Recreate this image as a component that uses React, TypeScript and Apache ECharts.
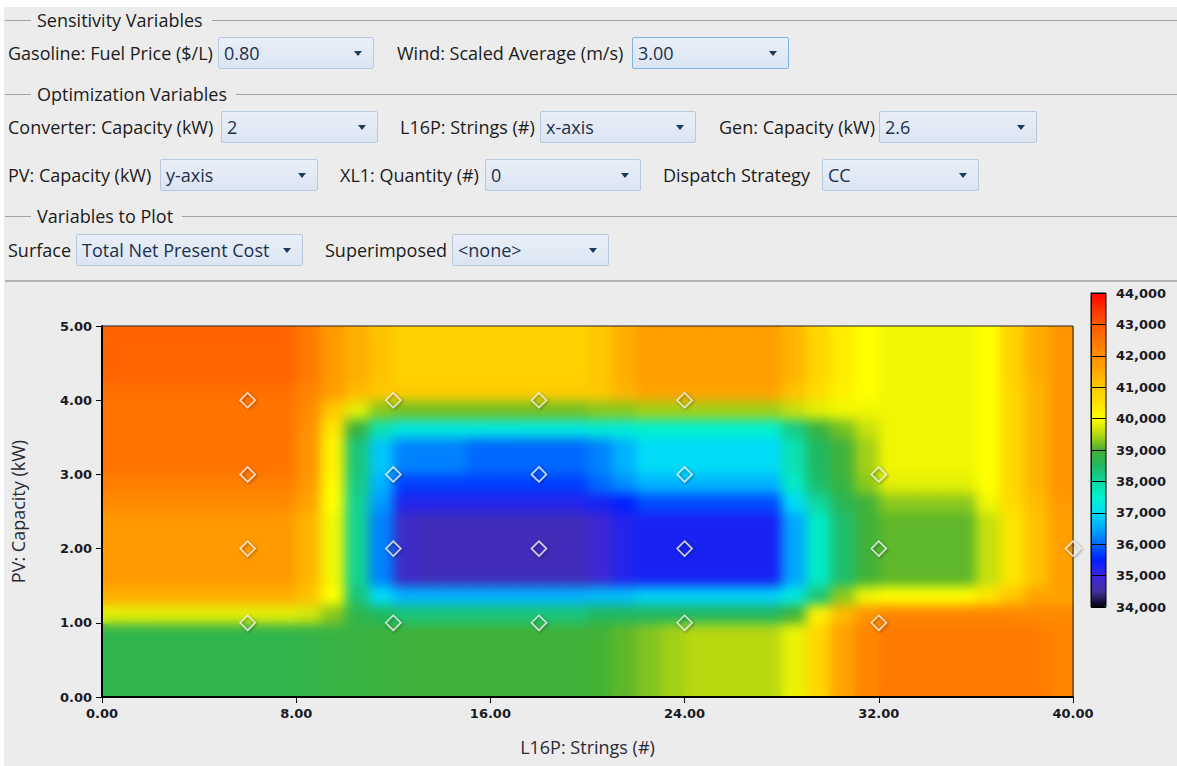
import React, { useEffect, useRef } from 'react';
import * as echarts from 'echarts';

// ---------------- data ----------------
const xMin = 0;
const xMax = 40;
const yMin = 0;
const yMax = 5;
const valueMin = 34000;
const valueMax = 44000;
const rowStep = 0.25; // each surface row spans 0.25 kW of PV capacity

// Total Net Present Cost surface.
// Each row is a list of runs [end L16P strings, NPC $] (cells 1 string wide), bottom row first.
const rowY0to1: number[][] = [[8, 38700], [9, 38750], [11, 38800], [12, 38850], [20, 38900], [21, 38950], [22, 39100], [23, 39250], [24, 39400], [28, 39500], [29, 39850], [30, 40700], [31, 41600], [32, 42200], [38, 42400], [39, 42350], [40, 42200]];
const rowY100: number[][] = [[8, 39800], [9, 39700], [10, 39300], [11, 38700], [12, 38500], [20, 38300], [28, 38500], [29, 38900], [30, 40200], [31, 41200], [32, 41900], [38, 42200], [40, 42100]];
const rowY125: number[][] = [[8, 41400], [9, 41100], [10, 40000], [11, 38300], [12, 37000], [20, 36600], [22, 36700], [28, 36900], [29, 37300], [30, 38300], [31, 39300], [32, 39900], [36, 40000], [37, 40400], [38, 41000], [40, 41600]];
const rowY150to250: number[][] = [[8, 41800], [9, 41300], [10, 39900], [11, 38100], [12, 36200], [13, 34800], [20, 34700], [21, 34900], [22, 35200], [28, 35300], [29, 36500], [30, 37600], [31, 38400], [32, 38900], [36, 39100], [37, 39600], [38, 40400], [39, 41100], [40, 41700]];
const rowY250: number[][] = [[8, 42100], [9, 41600], [10, 40000], [11, 38100], [12, 36400], [20, 35200], [21, 35300], [22, 35500], [28, 35800], [29, 37000], [30, 38000], [31, 38600], [32, 38900], [36, 39300], [37, 39900], [38, 40600], [39, 41200], [40, 41800]];
const rowY275: number[][] = [[8, 42300], [9, 41800], [10, 40100], [11, 38200], [12, 36600], [20, 35700], [21, 36000], [22, 36300], [28, 36600], [29, 37600], [30, 38400], [31, 38800], [32, 39300], [36, 39800], [37, 40000], [38, 40700], [39, 41300], [40, 41900]];
const rowY300to350: number[][] = [[8, 42500], [9, 41900], [10, 40200], [11, 38300], [12, 36800], [15, 36200], [20, 36000], [21, 36200], [22, 36600], [28, 37000], [29, 37800], [30, 38500], [31, 38900], [32, 39400], [36, 39900], [37, 40000], [38, 40700], [39, 41300], [40, 41900]];
const rowY350: number[][] = [[8, 42500], [9, 42000], [10, 40400], [11, 38800], [12, 37800], [20, 37300], [22, 37400], [28, 37500], [29, 38200], [30, 38800], [31, 39200], [32, 39600], [36, 39900], [37, 40000], [38, 40700], [39, 41300], [40, 41900]];
const rowY375: number[][] = [[8, 42500], [9, 42100], [10, 41000], [11, 39800], [12, 39300], [20, 39200], [22, 39300], [28, 39400], [29, 39600], [30, 39800], [36, 39900], [37, 40000], [38, 40700], [39, 41300], [40, 41900]];
const rowY400: number[][] = [[8, 42600], [9, 42200], [10, 41700], [11, 41200], [12, 41000], [20, 40900], [21, 41000], [22, 41300], [28, 41600], [29, 41100], [30, 40600], [31, 40200], [32, 40000], [36, 39900], [37, 40000], [38, 40700], [39, 41300], [40, 41900]];
const rowY425to500: number[][] = [[8, 42800], [9, 42400], [10, 41800], [11, 41400], [12, 41100], [20, 40800], [21, 41000], [22, 41400], [28, 41700], [29, 41300], [30, 40700], [31, 40300], [32, 40000], [36, 39900], [37, 40000], [38, 40800], [39, 41400], [40, 41900]];

const surfaceRows: number[][][] = [
  rowY0to1, rowY0to1, rowY0to1, rowY0to1,
  rowY100, rowY125,
  rowY150to250, rowY150to250, rowY150to250, rowY150to250,
  rowY250, rowY275,
  rowY300to350, rowY300to350,
  rowY350, rowY375, rowY400,
  rowY425to500, rowY425to500, rowY425to500,
];

// simulated (feasible) points: [L16P strings, PV kW]
const simulatedPoints: number[][] = [
  [6, 1], [6, 2], [6, 3], [6, 4],
  [12, 1], [12, 2], [12, 3], [12, 4],
  [18, 1], [18, 2], [18, 3], [18, 4],
  [24, 1], [24, 2], [24, 3], [24, 4],
  [32, 1], [32, 2], [32, 3],
  [40, 2],
];

const palette = [
  '#00000a', '#45309f', '#3a26e0', '#0020ff', '#0068ff', '#00a8ff', '#00dcf8',
  '#00f0d0', '#10d8a0', '#20b860', '#48b030', '#b8d810', '#ffff00', '#ffe000',
  '#ffc800', '#ffa800', '#ff9000', '#ff7400', '#ff5a00', '#ff3000', '#ff0000',
];

const xAxisTitle = 'L16P: Strings (#)';
const yAxisTitle = 'PV: Capacity (kW)';

// ---------------- form ----------------
type Field = { label: string; labelX: number; boxX: number; boxW: number; value: string; focused?: boolean };
const formRows: { top: number; fields: Field[] }[] = [
  { top: 37, fields: [
    { label: 'Gasoline: Fuel Price ($/L)', labelX: 8, boxX: 218, boxW: 156, value: '0.80' },
    { label: 'Wind: Scaled Average (m/s)', labelX: 397, boxX: 632, boxW: 157, value: '3.00', focused: true },
  ] },
  { top: 111, fields: [
    { label: 'Converter: Capacity (kW)', labelX: 8, boxX: 221, boxW: 157, value: '2' },
    { label: 'L16P: Strings (#)', labelX: 400, boxX: 540, boxW: 156, value: 'x-axis' },
    { label: 'Gen: Capacity (kW)', labelX: 719, boxX: 879, boxW: 158, value: '2.6' },
  ] },
  { top: 159, fields: [
    { label: 'PV: Capacity (kW)', labelX: 8, boxX: 160, boxW: 158, value: 'y-axis' },
    { label: 'XL1: Quantity (#)', labelX: 340, boxX: 485, boxW: 156, value: '0' },
    { label: 'Dispatch Strategy', labelX: 663, boxX: 822, boxW: 157, value: 'CC' },
  ] },
  { top: 234, fields: [
    { label: 'Surface', labelX: 8, boxX: 76, boxW: 227, value: 'Total Net Present Cost' },
    { label: 'Superimposed', labelX: 325, boxX: 452, boxW: 157, value: '<none>' },
  ] },
];
const groupHeaders = [
  { y: 20, text: 'Sensitivity Variables' },
  { y: 94, text: 'Optimization Variables' },
  { y: 216, text: 'Variables to Plot' },
];

const FORM_FONT = '"Open Sans", "Noto Sans", sans-serif';
const FORM_SIZE = 18;
const TICK_FONT = '"DejaVu Sans", Verdana, sans-serif';

function buildCells(): number[][] {
  const cells: number[][] = [];
  surfaceRows.forEach((runs, r) => {
    const y0 = r * rowStep;
    const y1 = y0 + rowStep;
    let start = xMin;
    runs.forEach(([end, v]) => {
      for (let c = start; c < end; c++) cells.push([c, c + 1, y0, y1, v]);
      start = end;
    });
  });
  return cells;
}

const GRID = { left: 102, top: 326, width: 971, height: 371 };

function surfaceSeries(cells: number[][]) {
  return {
    type: 'custom',
    xAxisIndex: 0,
    yAxisIndex: 0,
    silent: true,
    data: cells,
    encode: { x: [0, 1], y: [2, 3] },
    renderItem: (_p: any, api: any) => {
      const a = api.coord([api.value(0), api.value(3)]);
      const b = api.coord([api.value(1), api.value(2)]);
      return {
        type: 'rect',
        shape: { x: a[0], y: a[1], width: b[0] - a[0] + 0.8, height: b[1] - a[1] + 0.8 },
        style: { fill: api.visual('color') },
      };
    },
  };
}

export default function App() {
  const aRef = useRef<HTMLDivElement>(null);
  const bRef = useRef<HTMLDivElement>(null);
  const cRef = useRef<HTMLDivElement>(null);

  useEffect(() => {
    const cells = buildCells();
    const vm = (show: boolean) => ({
      type: 'continuous',
      seriesIndex: 0,
      dimension: 4,
      min: valueMin,
      max: valueMax,
      inRange: { color: palette },
      show,
      calculable: false,
      hoverLink: false,
      left: 1091,
      top: 293,
      itemWidth: 15,
      itemHeight: 314,
      padding: 0,
    });

    const tickLabel = { color: '#1a1a24', fontFamily: TICK_FONT, fontSize: 13, fontWeight: 'bold' as const };

    const a = echarts.init(aRef.current!, undefined, { renderer: 'svg' });
    a.setOption({
      animation: false,
      grid: [
        { ...GRID },
        { left: 1091, top: 293, width: 15, height: 314, show: true, borderColor: '#000', borderWidth: 1, backgroundColor: 'transparent', z: 10 },
      ],
      xAxis: [
        { type: 'value', min: xMin, max: xMax, show: false, gridIndex: 0 },
        { type: 'value', min: 0, max: 1, show: false, gridIndex: 1 },
      ],
      yAxis: [
        { type: 'value', min: yMin, max: yMax, show: false, gridIndex: 0 },
        {
          type: 'value', gridIndex: 1, min: valueMin, max: valueMax, interval: 1000, position: 'right', z: 10,
          axisLine: { show: true, lineStyle: { color: '#000', width: 1 } },
          axisTick: { show: true, length: 7, lineStyle: { color: '#000' } },
          splitLine: { show: true, lineStyle: { color: '#000', width: 1 } },
          axisLabel: { ...tickLabel, margin: 10, formatter: (v: number) => v.toLocaleString('en-US') },
        },
      ],
      visualMap: vm(true),
      series: [surfaceSeries(cells)],
    });

    const b = echarts.init(bRef.current!, undefined, { renderer: 'svg' });
    b.setOption({
      animation: false,
      grid: { ...GRID },
      xAxis: { type: 'value', min: xMin, max: xMax, show: false },
      yAxis: { type: 'value', min: yMin, max: yMax, show: false },
      visualMap: vm(false),
      series: [surfaceSeries(cells)],
    });

    const c = echarts.init(cRef.current!, undefined, { renderer: 'svg' });
    const axisCommon = {
      type: 'value',
      axisLine: { show: true, lineStyle: { color: '#000', width: 2 } },
      axisTick: { show: true, length: 6, lineStyle: { color: '#000', width: 1 } },
      splitLine: { show: false },
      axisLabel: { ...tickLabel, margin: 10, formatter: (v: number) => v.toFixed(2) },
      nameLocation: 'middle',
      nameTextStyle: { color: '#2a2a35', fontFamily: FORM_FONT, fontSize: FORM_SIZE },
    };
    c.setOption({
      animation: false,
      grid: { ...GRID, show: true, borderColor: '#222', borderWidth: 1, backgroundColor: 'transparent' },
      xAxis: { ...axisCommon, min: xMin, max: xMax, interval: 8, name: xAxisTitle, nameGap: 41 },
      yAxis: { ...axisCommon, min: yMin, max: yMax, interval: 1, name: yAxisTitle, nameGap: 75 },
      series: [{
        type: 'scatter',
        data: simulatedPoints,
        symbol: 'diamond',
        symbolSize: 15,
        silent: true,
        clip: false,
        itemStyle: {
          color: 'rgba(0,0,0,0)',
          borderColor: '#f2f2f2',
          borderWidth: 1.6,
          shadowColor: 'rgba(0,0,0,0.55)',
          shadowBlur: 3,
          shadowOffsetX: 1,
          shadowOffsetY: 1,
        },
      }],
    });

    return () => { a.dispose(); b.dispose(); c.dispose(); };
  }, []);

  const layer: React.CSSProperties = { position: 'absolute', left: 0, top: 0, width: 1177, height: 766 };
  const textBase: React.CSSProperties = { fontFamily: FORM_FONT, fontSize: FORM_SIZE, whiteSpace: 'nowrap' };

  return (
    <div style={{ position: 'fixed', left: 0, top: 0, width: 1177, height: 766, background: '#fff', overflow: 'hidden' }}>
      <div style={{ position: 'absolute', left: 4, top: 7, right: 0, bottom: 0, background: '#ececec' }} />
      {groupHeaders.map((g) => (
        <div key={g.text} style={{ position: 'absolute', left: 5, right: 0, top: g.y - 12, height: 24, display: 'flex', alignItems: 'center' }}>
          <div style={{ width: 26, height: 1, background: '#a3a3a3' }} />
          <span style={{ ...textBase, padding: '0 9px 0 6px', color: '#1b1b1b', lineHeight: '24px' }}>{g.text}</span>
          <div style={{ flex: 1, height: 1, background: '#a3a3a3' }} />
        </div>
      ))}
      <div style={{ position: 'absolute', left: 5, right: 0, top: 280, height: 2, background: '#b3b3b3' }} />
      {formRows.map((row) => row.fields.map((f) => (
        <React.Fragment key={f.label}>
          <div style={{ ...textBase, position: 'absolute', left: f.labelX, top: row.top, height: 32, lineHeight: '32px', color: '#1b1b1b' }}>{f.label}</div>
          <div style={{
            ...textBase,
            position: 'absolute', left: f.boxX, top: row.top, width: f.boxW, height: 32, boxSizing: 'border-box',
            border: `1px solid ${f.focused ? '#7fb2e5' : '#b9c9dd'}`, borderRadius: 2,
            background: 'linear-gradient(#e9eff8, #dbe5f2)', color: '#1e304a',
            lineHeight: '30px', paddingLeft: 5,
          }}>
            {f.value}
            <div style={{ position: 'absolute', right: 11, top: 13, width: 0, height: 0, borderLeft: '4px solid transparent', borderRight: '4px solid transparent', borderTop: '5px solid #1e395b' }} />
          </div>
        </React.Fragment>
      )))}
      <div ref={aRef} style={layer} />
      <div ref={bRef} style={{ ...layer, filter: 'blur(6px)', clipPath: 'inset(327px 105px 70px 103px)' }} />
      <div ref={cRef} style={layer} />
    </div>
  );
}
